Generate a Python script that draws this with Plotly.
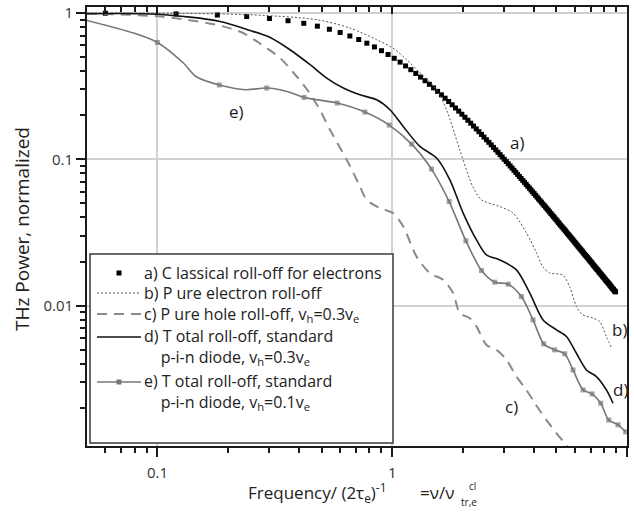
import math
import plotly.graph_objects as go

# ---------------- data ----------------
# a) classical roll-off for electrons (markers)
a_x = [0.06, 0.12, 0.18, 0.24, 0.30, 0.36, 0.42, 0.48, 0.54, 0.60,
       0.66, 0.72, 0.78, 0.84, 0.90, 0.96, 1.02, 1.08, 1.14, 1.20,
       1.26, 1.32, 1.38, 1.44, 1.50, 1.56, 1.62, 1.68, 1.74, 1.80,
       1.86, 1.92, 1.98, 2.04, 2.10, 2.16, 2.22, 2.28, 2.34, 2.40,
       2.46, 2.52, 2.58, 2.64, 2.70, 2.76, 2.82, 2.88, 2.94, 3.00,
       3.06, 3.12, 3.18, 3.24, 3.30, 3.36, 3.42, 3.48, 3.54, 3.60,
       3.66, 3.72, 3.78, 3.84, 3.90, 3.96, 4.02, 4.08, 4.14, 4.20,
       4.26, 4.32, 4.38, 4.44, 4.50, 4.56, 4.62, 4.68, 4.74, 4.80,
       4.86, 4.92, 4.98, 5.04, 5.10, 5.16, 5.22, 5.28, 5.34, 5.40,
       5.46, 5.52, 5.58, 5.64, 5.70, 5.76, 5.82, 5.88, 5.94, 6.00,
       6.06, 6.12, 6.18, 6.24, 6.30, 6.36, 6.42, 6.48, 6.54, 6.60,
       6.66, 6.72, 6.78, 6.84, 6.90, 6.96, 7.02, 7.08, 7.14, 7.20,
       7.26, 7.32, 7.38, 7.44, 7.50, 7.56, 7.62, 7.68, 7.74, 7.80,
       7.86, 7.92, 7.98, 8.04, 8.10, 8.16, 8.22, 8.28, 8.34, 8.40,
       8.46, 8.52, 8.58, 8.64, 8.70, 8.76, 8.82, 8.88, 8.94]
a_y = [0.9964, 0.9858, 0.9686, 0.9456, 0.9174, 0.8853, 0.8500, 0.8127, 0.7742, 0.7353,
       0.6966, 0.6586, 0.6217, 0.5863, 0.5525, 0.5204, 0.4901, 0.4616, 0.4348, 0.4098,
       0.3864, 0.3646, 0.3443, 0.3254, 0.3077, 0.2912, 0.2759, 0.2616, 0.2483, 0.2358,
       0.2242, 0.2134, 0.2032, 0.1937, 0.1848, 0.1765, 0.1687, 0.1613, 0.1544, 0.1479,
       0.1418, 0.1360, 0.1306, 0.1255, 0.1206, 0.1160, 0.1117, 0.1076, 0.1037, 0.1000,
       0.0965, 0.0932, 0.0900, 0.0870, 0.0841, 0.0814, 0.0788, 0.0763, 0.0739, 0.0716,
       0.0695, 0.0674, 0.0654, 0.0635, 0.0617, 0.0599, 0.0583, 0.0567, 0.0551, 0.0536,
       0.0522, 0.0509, 0.0495, 0.0483, 0.0471, 0.0459, 0.0448, 0.0437, 0.0426, 0.0416,
       0.0406, 0.0397, 0.0388, 0.0379, 0.0370, 0.0362, 0.0354, 0.0346, 0.0339, 0.0332,
       0.0325, 0.0318, 0.0311, 0.0305, 0.0299, 0.0293, 0.0287, 0.0281, 0.0276, 0.0270,
       0.0265, 0.0260, 0.0255, 0.0250, 0.0246, 0.0241, 0.0237, 0.0233, 0.0228, 0.0224,
       0.0220, 0.0217, 0.0213, 0.0209, 0.0206, 0.0202, 0.0199, 0.0196, 0.0192, 0.0189,
       0.0186, 0.0183, 0.0180, 0.0177, 0.0175, 0.0172, 0.0169, 0.0167, 0.0164, 0.0162,
       0.0159, 0.0157, 0.0155, 0.0152, 0.0150, 0.0148, 0.0146, 0.0144, 0.0142, 0.0140,
       0.0138, 0.0136, 0.0134, 0.0132, 0.0130, 0.0129, 0.0127, 0.0125, 0.0124]

# b) pure electron roll-off
b_x = [0.05, 0.1, 0.248, 0.477, 0.66, 0.858, 1.007, 1.152, 1.312, 1.545,
       1.704, 1.94, 2.205, 2.40, 2.873, 3.264, 3.73, 4.117, 4.38, 4.69,
       5.32, 5.70, 6.09, 6.48, 7.14, 7.65, 8.17, 8.58]
b_y = [1.0, 0.997, 0.973, 0.90, 0.79, 0.657, 0.576, 0.479, 0.391, 0.299,
       0.218, 0.116, 0.0648, 0.0528, 0.0475, 0.043, 0.0314, 0.0229, 0.0184, 0.0167,
       0.0162, 0.0134, 0.00985, 0.00864, 0.00823, 0.00778, 0.00614, 0.00514]

# c) pure hole roll-off, v_h = 0.3 v_e
c_x = [0.05, 0.1, 0.1334, 0.162, 0.1904, 0.2316, 0.265, 0.333, 0.392, 0.4396,
       0.492, 0.543, 0.64, 0.729, 0.778, 0.886, 1.007, 1.114, 1.27, 1.447,
       1.648, 1.818, 1.94, 2.14, 2.286, 2.52, 2.78, 3.07, 3.38, 3.73,
       4.05, 4.54, 5.01, 5.52, 5.99]
c_y = [0.995, 0.95, 0.90, 0.854, 0.81, 0.73, 0.639, 0.492, 0.368, 0.291,
       0.218, 0.159, 0.0993, 0.0652, 0.0528, 0.0464, 0.0429, 0.0347, 0.0216, 0.01666,
       0.015, 0.01216, 0.00887, 0.0082, 0.00718, 0.00538, 0.00498, 0.00425, 0.00327, 0.00265,
       0.00215, 0.00165, 0.00134, 0.00111, 0.00091]

# d) total roll-off, standard p-i-n diode, v_h = 0.3 v_e
d_x = [0.05, 0.1, 0.185, 0.248, 0.302, 0.367, 0.447, 0.526, 0.619, 0.729,
       0.858, 0.978, 1.114, 1.312, 1.545, 1.76, 2.005, 2.286, 2.52, 2.873,
       3.38, 3.855, 4.39, 5.01, 5.52, 6.09, 6.72, 7.41, 8.17, 8.72]
d_y = [0.989, 0.981, 0.876, 0.76, 0.68, 0.561, 0.443, 0.359, 0.307, 0.276,
       0.255, 0.218, 0.1676, 0.1224, 0.102, 0.0724, 0.0429, 0.0281, 0.0222, 0.0205,
       0.01755, 0.01216, 0.00798, 0.00682, 0.00614, 0.00472, 0.00363, 0.00327, 0.00265, 0.00215]

# e) total roll-off, standard p-i-n diode, v_h = 0.1 v_e
e_x = [0.05, 0.079, 0.1, 0.129, 0.146, 0.1835, 0.238, 0.292, 0.356, 0.421,
       0.583, 0.765, 0.971, 1.21, 1.47, 1.748, 2.06, 2.40, 2.735, 3.12,
       3.55, 3.98, 4.42, 4.92, 5.43, 5.89, 6.5, 7.1, 7.73, 8.36,
       9.16, 9.87]
e_y = [0.89, 0.73, 0.629, 0.455, 0.368, 0.322, 0.299, 0.307, 0.291, 0.265,
       0.2424, 0.2104, 0.1714, 0.127, 0.0857, 0.0514, 0.0277, 0.01737, 0.01445, 0.0140,
       0.01152, 0.00798, 0.00547, 0.00498, 0.00468, 0.00363, 0.00265, 0.00249, 0.00215, 0.00165,
       0.00153, 0.00137]
# marker shown on each e) point (1) or line only (0)
e_marked = [0, 0, 1, 0, 0, 1, 0, 1, 0, 1,
            1, 1, 1, 1, 1, 1, 1, 1, 1, 1,
            1, 1, 1, 1, 1, 1, 1, 1, 1, 1,
            1, 1]

x_ticks = [0.1, 1, 10]
x_ticktext = ["0.1", "1", "10"]
y_ticks = [0.01, 0.1, 1]
y_ticktext = ["0.01", "0.1", "1"]

# curve labels: (text, x, y)
curve_labels = [("a)", 3.39, 0.13), ("b)", 9.3, 0.00684), ("c)", 3.23, 0.00203),
                ("d)", 9.4, 0.00265), ("e)", 0.218, 0.212)]

# legend entries: key, text lines
legend_entries = [
    ("a", ["a) C lassical roll-off for electrons"]),
    ("b", ["b) P ure electron roll-off"]),
    ("c", ["c) P ure hole roll-off, v<sub>h</sub>=0.3v<sub>e</sub>"]),
    ("d", ["d) T otal roll-off, standard", "p-i-n diode, v<sub>h</sub>=0.3v<sub>e</sub>"]),
    ("e", ["e) T otal roll-off, standard", "p-i-n diode, v<sub>h</sub>=0.1v<sub>e</sub>"]),
]

# ---------------- styling ----------------
FONT = "Open Sans"
W, H = 634, 513
ML, MR, MT, MB = 87, 7, 7, 67
PW, PH = W - ML - MR, H - MT - MB
INK = "#222222"
LEG_SIZE = 16

STYLE = {
    "a": dict(color="black"),
    "b": dict(color="#555555", width=1, dash="2px,2px"),
    "c": dict(color="#8a8a8a", width=2, dash="10px,7px"),
    "d": dict(color="#111111", width=1.6),
    "e": dict(color="#777777", width=1.6),
}


def px_x(px):
    return (px - ML) / PW


def px_y(py):
    return (H - MB - py) / PH


minor_x = [0.06, 0.07, 0.08, 0.09] + [i / 10 for i in range(2, 10)] + list(range(2, 10))
minor_y = [0.002, 0.003, 0.004, 0.005, 0.006, 0.007, 0.008, 0.009] + \
          [i / 100 for i in range(2, 10)] + [i / 10 for i in range(2, 10)]

fig = go.Figure()

fig.add_trace(go.Scatter(
    x=a_x, y=a_y, mode="markers", name="a",
    marker=dict(symbol="square", size=5, color=STYLE["a"]["color"], line=dict(width=0)),
))
fig.add_trace(go.Scatter(
    x=b_x, y=b_y, mode="lines", name="b",
    line=dict(**STYLE["b"], shape="spline", smoothing=0.8),
))
fig.add_trace(go.Scatter(
    x=c_x, y=c_y, mode="lines", name="c",
    line=dict(**STYLE["c"], shape="spline", smoothing=0.8),
))
fig.add_trace(go.Scatter(
    x=d_x, y=d_y, mode="lines", name="d",
    line=dict(**STYLE["d"], shape="spline", smoothing=0.8),
))
fig.add_trace(go.Scatter(
    x=e_x, y=e_y, mode="lines+markers", name="e",
    line=dict(**STYLE["e"], shape="spline", smoothing=0.8),
    marker=dict(symbol="square", size=[5 * m for m in e_marked], color=STYLE["e"]["color"],
                line=dict(width=0)),
))

# invisible trace anchoring the top axis (inside ticks)
fig.add_trace(go.Scatter(x=[1], y=[1], xaxis="x2", mode="markers",
                         marker=dict(opacity=0), hoverinfo="skip"))

axis_line = dict(showline=True, linecolor="#1a1a1a", linewidth=1.8)
tick_font = dict(family=FONT, size=15, color="#333333")

fig.update_layout(
    width=W, height=H,
    margin=dict(l=ML, r=MR, t=MT, b=MB, autoexpand=False),
    paper_bgcolor="white", plot_bgcolor="white",
    font=dict(family=FONT, color=INK),
    showlegend=False,
    xaxis=dict(type="log", range=[-1.3, 1.0], tickvals=x_ticks, ticktext=x_ticktext,
               ticks="outside", ticklen=9, tickwidth=1.5, tickcolor="#1a1a1a",
               tickfont=tick_font, ticklabelstandoff=3, automargin=False,
               showgrid=True, gridcolor="#d2d2d2", gridwidth=1.5,
               mirror=True, zeroline=False,
               minor=dict(tickvals=minor_x, ticks="outside", ticklen=5, tickwidth=1.5,
                          tickcolor="#1a1a1a", showgrid=False),
               **axis_line),
    xaxis2=dict(type="log", range=[-1.3, 1.0], overlaying="x", side="top",
                tickvals=x_ticks, ticks="inside", ticklen=7, tickwidth=1.5,
                tickcolor="#1a1a1a", showticklabels=False, showgrid=False,
                zeroline=False, showline=False, automargin=False,
                minor=dict(tickvals=minor_x, ticks="inside", ticklen=5, tickwidth=1.5,
                           tickcolor="#1a1a1a", showgrid=False)),
    yaxis=dict(type="log", range=[-2.96, 0.041], tickvals=y_ticks, ticktext=y_ticktext,
               ticks="outside", ticklen=9, tickwidth=1.5, tickcolor="#1a1a1a",
               tickfont=tick_font, automargin=False,
               showgrid=True, gridcolor="#d2d2d2", gridwidth=1.5,
               mirror=True, zeroline=False,
               minor=dict(tickvals=minor_y, ticks="outside", ticklen=5, tickwidth=1.5,
                          tickcolor="#1a1a1a", showgrid=False),
               **axis_line),
)

# ---------------- legend box ----------------
box = dict(x0=px_x(90), x1=px_x(393), y0=px_y(443), y1=px_y(254))
fig.add_shape(type="rect", xref="paper", yref="paper", **box,
              line=dict(color="#3a3a3a", width=1.5), fillcolor="white", layer="above")

row_y = {"a": 273, "b": 293, "c": 314, "d": 337, "e": 382}
LINE_GAP = 20          # px between the two lines of a wrapped entry
SYM_X0, SYM_X1, SYM_MID = 97, 141, 119
TEXT_X = 142
INDENT = "&nbsp;" * 4
HALF = 2.5             # half size of square legend markers, px

for key, lines in legend_entries:
    y1 = row_y[key]
    st = STYLE[key]
    if key != "a":
        fig.add_shape(type="line", xref="paper", yref="paper",
                      x0=px_x(SYM_X0), x1=px_x(SYM_X1), y0=px_y(y1), y1=px_y(y1),
                      line=dict(color=st["color"], width=st["width"],
                                dash=st.get("dash", "solid")),
                      layer="above")
    if key in ("a", "e"):
        fig.add_shape(type="rect", xref="paper", yref="paper",
                      x0=px_x(SYM_MID - HALF), x1=px_x(SYM_MID + HALF),
                      y0=px_y(y1 + HALF), y1=px_y(y1 - HALF),
                      line=dict(width=0), fillcolor=st["color"], layer="above")
    text = "<br>".join([lines[0]] + [INDENT + s for s in lines[1:]])
    y_mid = y1 + LINE_GAP * (len(lines) - 1) / 2
    fig.add_annotation(xref="paper", yref="paper", x=px_x(TEXT_X), y=px_y(y_mid),
                       xanchor="left", yanchor="middle", align="left", text=text,
                       showarrow=False, font=dict(family=FONT, size=LEG_SIZE, color=INK))

# curve labels (log axes take log10 positions for annotations)
for txt, lx, ly in curve_labels:
    fig.add_annotation(x=math.log10(lx), y=math.log10(ly), text=txt, showarrow=False,
                       xanchor="center", yanchor="middle",
                       font=dict(family=FONT, size=17, color=INK))

# axis titles
fig.add_annotation(xref="paper", yref="paper", x=px_x(22), y=px_y(229),
                   xanchor="center", yanchor="middle",
                   text="THz Power, normalized", textangle=-90, showarrow=False,
                   font=dict(family=FONT, size=19, color=INK))
fig.add_annotation(xref="paper", yref="paper", x=px_x(246), y=px_y(492),
                   xanchor="left", yanchor="middle",
                   text="Frequency/ (2τ<sub>e</sub>)<sup>-1</sup>",
                   showarrow=False, font=dict(family=FONT, size=17, color=INK))
fig.add_annotation(xref="paper", yref="paper", x=px_x(418), y=px_y(492),
                   xanchor="left", yanchor="middle", text="=ν/ν",
                   showarrow=False, font=dict(family=FONT, size=17, color=INK))
fig.add_annotation(xref="paper", yref="paper", x=px_x(467), y=px_y(486),
                   xanchor="left", yanchor="middle", text="cl", showarrow=False,
                   font=dict(family=FONT, size=10, color=INK))
fig.add_annotation(xref="paper", yref="paper", x=px_x(459), y=px_y(502),
                   xanchor="left", yanchor="middle", text="tr,e", showarrow=False,
                   font=dict(family=FONT, size=10, color=INK))

fig.write_html("out.html")
